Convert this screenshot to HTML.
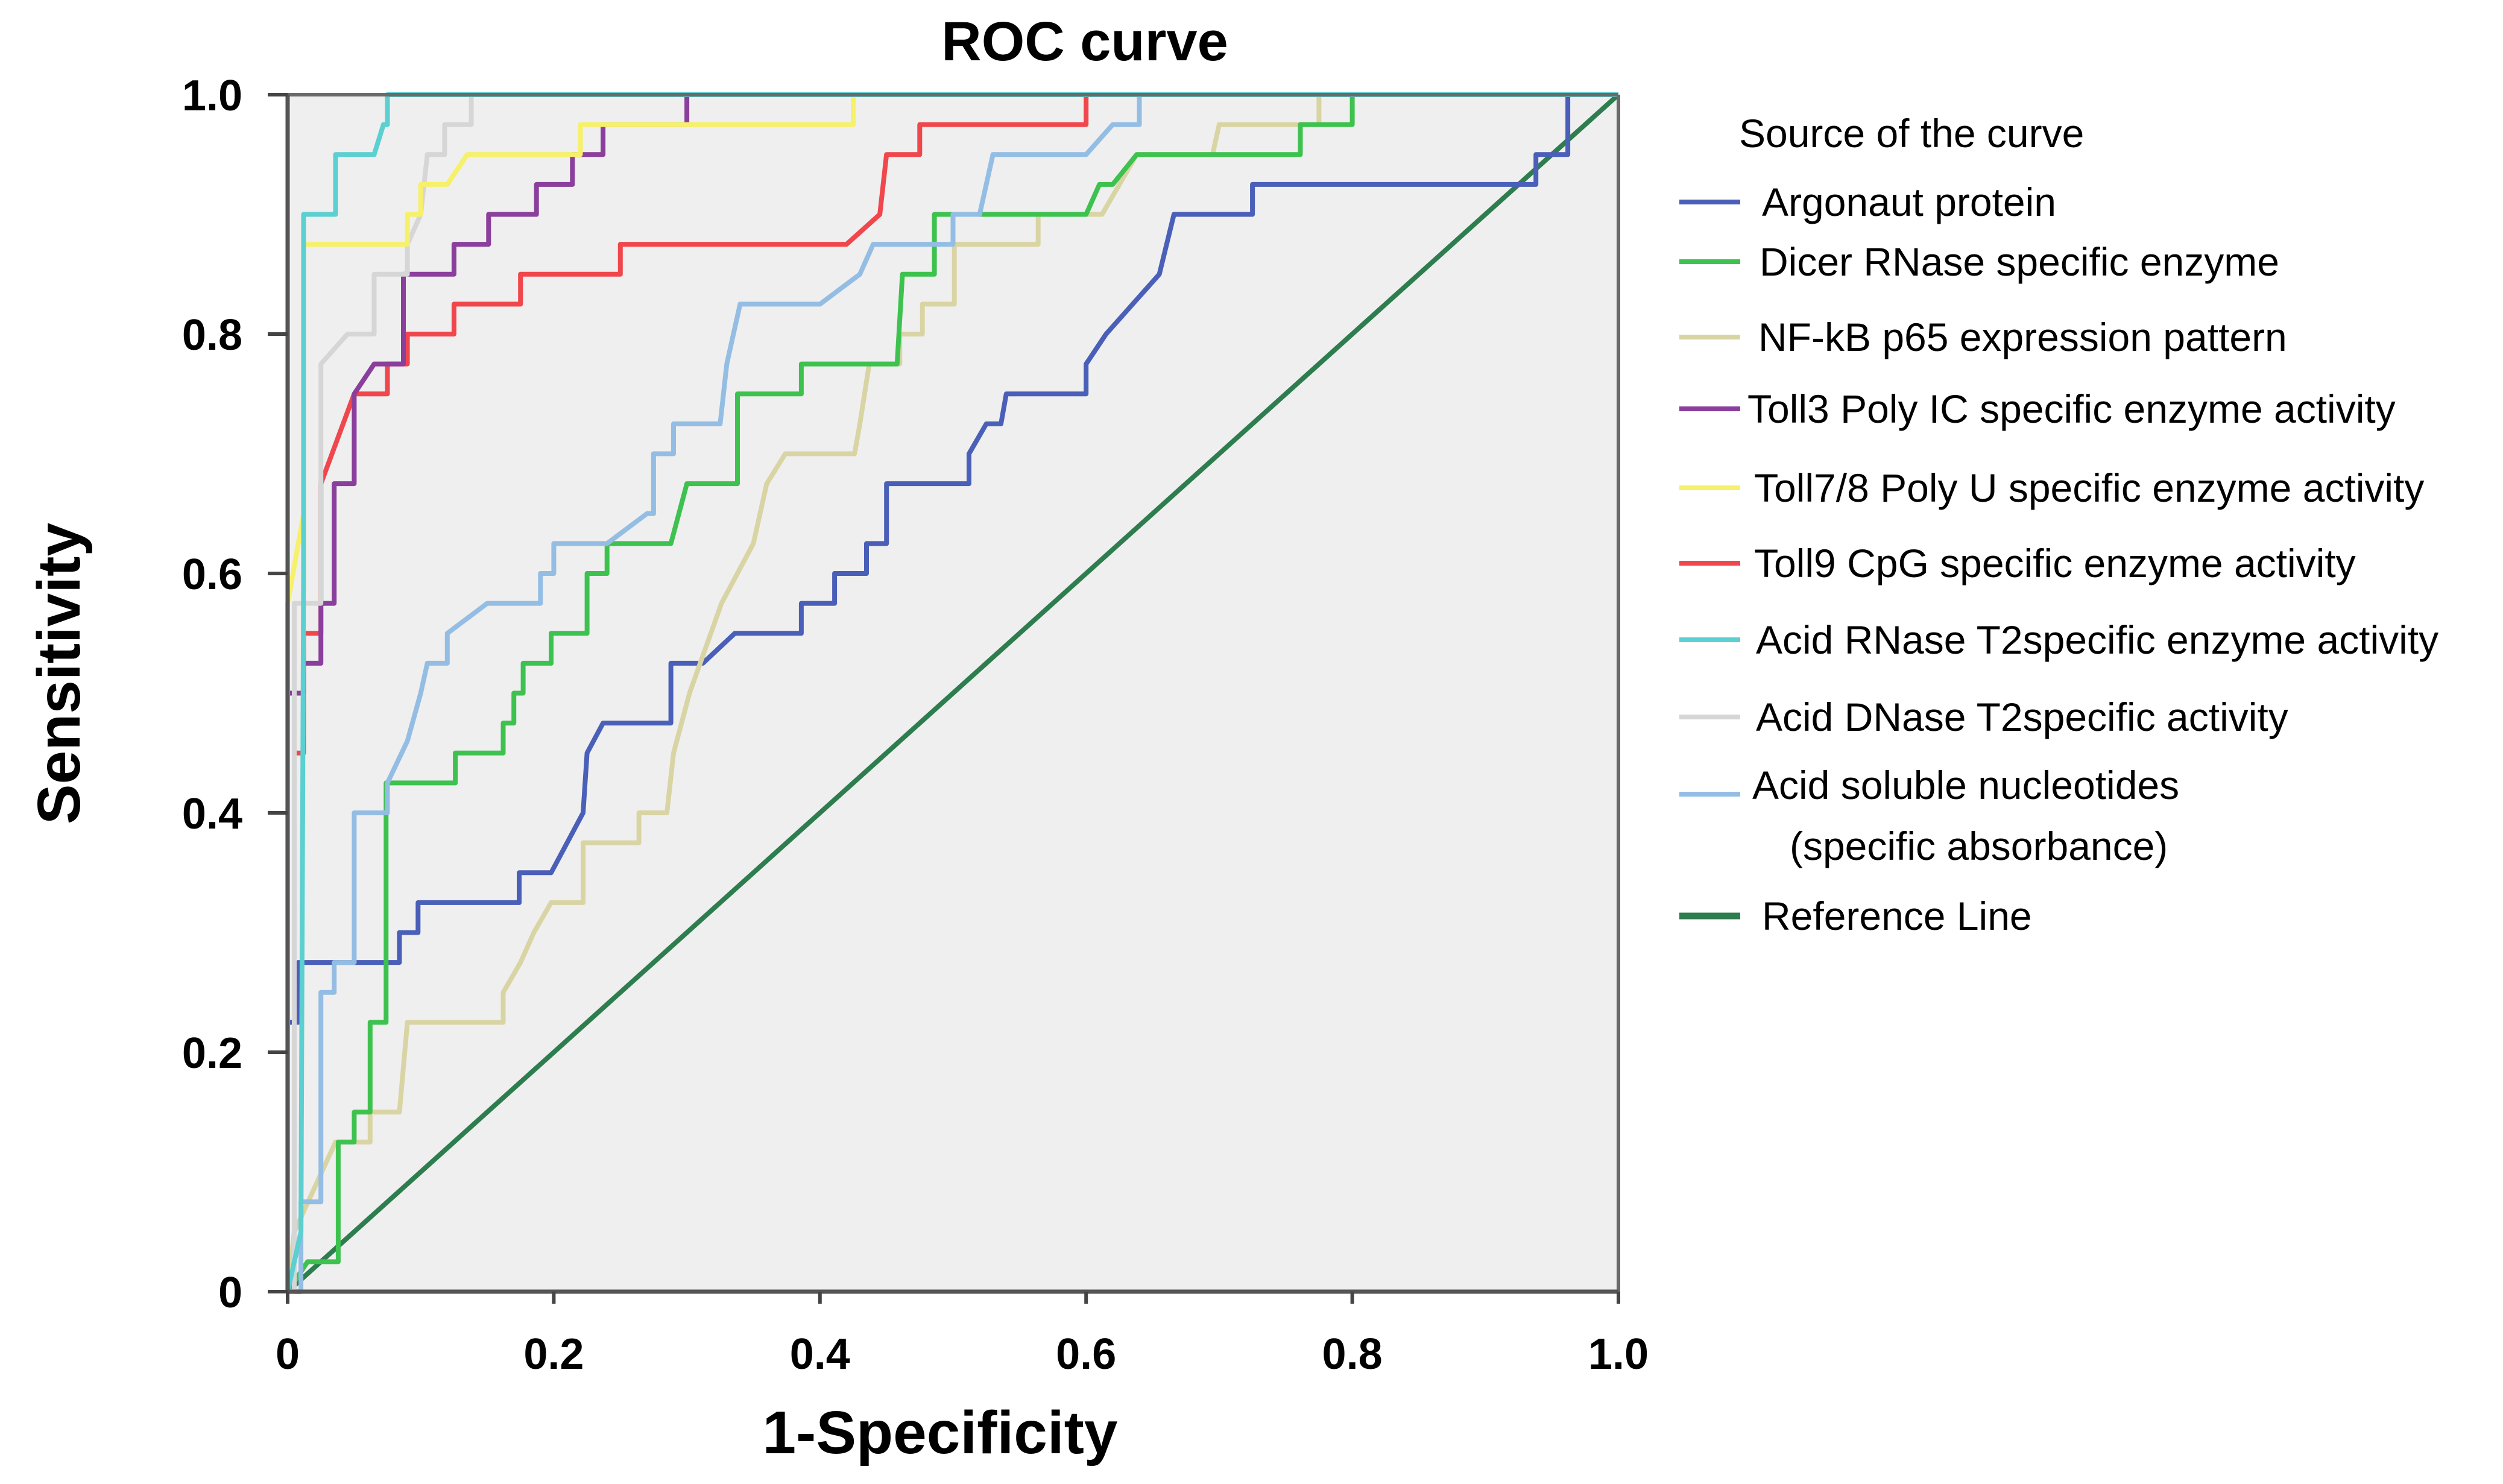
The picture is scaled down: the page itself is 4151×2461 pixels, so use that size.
<!DOCTYPE html>
<html><head><meta charset="utf-8"><style>
html,body{margin:0;padding:0;background:#fff;}
svg{display:block;}
text{font-family:"Liberation Sans",sans-serif;}
</style></head><body>
<svg id="chart" width="4151" height="2461" viewBox="0 0 4151 2461" xmlns="http://www.w3.org/2000/svg">
<rect x="0" y="0" width="4151" height="2461" fill="#fff"/>
<text x="1799" y="100" font-size="92" font-weight="bold" text-anchor="middle" fill="#000">ROC curve</text>
<rect x="477" y="157" width="2207" height="1985" fill="#efefef"/>
<g id="series"></g>
<g id="axes"></g>
<text x="1559" y="2410" font-size="100" font-weight="bold" text-anchor="middle" fill="#000">1-Specificity</text>
<text transform="translate(132,1117) rotate(-90)" font-size="100" font-weight="bold" text-anchor="middle" fill="#000">Sensitivity</text>
<g id="legend">
<text x="2884" y="244" font-size="66" fill="#000">Source of the curve</text>
</g>
</svg>
<script>
const seriesNames = ["Argonaut protein","Dicer RNase specific enzyme","NF-kB p65 expression pattern","Toll3 Poly IC specific enzyme activity","Toll7/8 Poly U specific enzyme activity","Toll9 CpG specific enzyme activity","Acid RNase T2specific enzyme activity","Acid DNase T2specific activity","Acid soluble nucleotides","Reference Line"];
const seriesColors = ["#4a5fb8","#3ec24f","#d9d4a3","#8b3f9c","#f6f06a","#f0474c","#5ccfd0","#d6d6d6","#94bde4","#2e7d4f"];
const xTicks = [0,0.2,0.4,0.6,0.8,1.0];
const xTickLabels = ["0","0.2","0.4","0.6","0.8","1.0"];
const yTicks = [0,0.2,0.4,0.6,0.8,1.0];
const yTickLabels = ["0","0.2","0.4","0.6","0.8","1.0"];

const argonautX = [0,0,0.008,0.008,0.084,0.084,0.098,0.098,0.174,0.174,0.198,0.222,0.225,0.225,0.237,0.237,0.288,0.288,0.312,0.336,0.386,0.386,0.411,0.411,0.435,0.435,0.45,0.45,0.512,0.512,0.525,0.536,0.54,0.6,0.6,0.615,0.635,0.655,0.666,0.666,0.725,0.725,0.938,0.938,0.962,0.962,1];
const argonautY = [0,0.225,0.225,0.275,0.275,0.3,0.3,0.325,0.325,0.35,0.35,0.4,0.45,0.45,0.475,0.475,0.475,0.525,0.525,0.55,0.55,0.575,0.575,0.6,0.6,0.625,0.625,0.675,0.675,0.7,0.725,0.725,0.75,0.75,0.775,0.8,0.825,0.85,0.9,0.9,0.9,0.925,0.925,0.95,0.95,1,1];
const dicerX = [0,0.015,0.015,0.038,0.038,0.05,0.05,0.062,0.062,0.074,0.074,0.126,0.126,0.162,0.162,0.17,0.17,0.177,0.177,0.198,0.198,0.225,0.225,0.24,0.24,0.25,0.25,0.288,0.3,0.3,0.338,0.338,0.386,0.386,0.458,0.462,0.462,0.486,0.486,0.6,0.61,0.62,0.638,0.638,0.761,0.761,0.8,0.8,1];
const dicerY = [0,0.025,0.025,0.025,0.125,0.125,0.15,0.15,0.225,0.225,0.425,0.425,0.45,0.45,0.475,0.475,0.5,0.5,0.525,0.525,0.55,0.55,0.6,0.6,0.625,0.625,0.625,0.625,0.675,0.675,0.675,0.75,0.75,0.775,0.775,0.85,0.85,0.85,0.9,0.9,0.925,0.925,0.95,0.95,0.95,0.975,0.975,1,1];
const nfkbX = [0,0.005,0.005,0.036,0.036,0.062,0.062,0.084,0.09,0.162,0.162,0.175,0.185,0.198,0.222,0.222,0.264,0.264,0.285,0.29,0.302,0.31,0.326,0.35,0.36,0.374,0.374,0.426,0.43,0.437,0.437,0.46,0.46,0.477,0.477,0.501,0.501,0.564,0.564,0.612,0.625,0.638,0.695,0.7,0.775,0.775,1];
const nfkbY = [0,0.05,0.05,0.125,0.125,0.125,0.15,0.15,0.225,0.225,0.25,0.275,0.3,0.325,0.325,0.375,0.375,0.4,0.4,0.45,0.5,0.525,0.575,0.625,0.675,0.7,0.7,0.7,0.725,0.775,0.775,0.775,0.8,0.8,0.825,0.825,0.875,0.875,0.9,0.9,0.925,0.95,0.95,0.975,0.975,1,1];
const toll3X = [0,0,0.012,0.012,0.025,0.025,0.035,0.035,0.05,0.05,0.065,0.087,0.087,0.125,0.125,0.151,0.151,0.187,0.187,0.214,0.214,0.237,0.237,0.3,0.3,1];
const toll3Y = [0,0.5,0.5,0.525,0.525,0.575,0.575,0.675,0.675,0.75,0.775,0.775,0.85,0.85,0.875,0.875,0.9,0.9,0.925,0.925,0.95,0.95,0.975,0.975,1,1];
const toll78X = [0,0,0.012,0.012,0.09,0.09,0.1,0.1,0.12,0.135,0.22,0.22,0.425,0.425,1];
const toll78Y = [0,0.575,0.65,0.875,0.875,0.9,0.9,0.925,0.925,0.95,0.95,0.975,0.975,1,1];
const toll9X = [0,0.005,0.005,0.012,0.012,0.025,0.025,0.05,0.05,0.075,0.075,0.09,0.09,0.125,0.125,0.175,0.175,0.25,0.25,0.42,0.445,0.45,0.45,0.475,0.475,0.6,0.6,1];
const toll9Y = [0,0,0.45,0.45,0.55,0.55,0.675,0.75,0.75,0.75,0.775,0.775,0.8,0.8,0.825,0.825,0.85,0.85,0.875,0.875,0.9,0.95,0.95,0.95,0.975,0.975,1,1];
const rnaseX = [0,0.01,0.012,0.012,0.036,0.036,0.065,0.072,0.075,0.075,1];
const rnaseY = [0,0.05,0.6,0.9,0.9,0.95,0.95,0.975,0.975,1,1];
const dnaseX = [0,0.005,0.005,0.025,0.025,0.045,0.065,0.065,0.09,0.09,0.1,0.105,0.105,0.118,0.118,0.138,0.138,1];
const dnaseY = [0,0,0.575,0.575,0.775,0.8,0.8,0.85,0.85,0.875,0.9,0.95,0.95,0.95,0.975,0.975,1,1];
const solubleX = [0,0.01,0.01,0.025,0.025,0.035,0.035,0.05,0.05,0.075,0.075,0.09,0.1,0.105,0.105,0.12,0.12,0.15,0.19,0.19,0.2,0.2,0.24,0.27,0.275,0.275,0.29,0.29,0.325,0.33,0.335,0.34,0.4,0.43,0.44,0.5,0.5,0.52,0.53,0.6,0.62,0.64,0.64,1];
const solubleY = [0,0,0.075,0.075,0.25,0.25,0.275,0.275,0.4,0.4,0.425,0.46,0.5,0.525,0.525,0.525,0.55,0.575,0.575,0.6,0.6,0.625,0.625,0.65,0.65,0.7,0.7,0.725,0.725,0.775,0.8,0.825,0.825,0.85,0.875,0.875,0.9,0.9,0.95,0.95,0.975,0.975,1,1];
const refX = [0,1];
const refY = [0,1];

const allX = [argonautX,dicerX,nfkbX,toll3X,toll78X,toll9X,rnaseX,dnaseX,solubleX,refX];
const allY = [argonautY,dicerY,nfkbY,toll3Y,toll78Y,toll9Y,rnaseY,dnaseY,solubleY,refY];

const NS = "http://www.w3.org/2000/svg";
const X0 = 477, X1 = 2684, Y0 = 2142, Y1 = 157;
function sx(v){ return X0 + v*(X1-X0); }
function sy(v){ return Y0 - v*(Y0-Y1); }

const sg = document.getElementById('series');
const drawOrder = [9,0,2,1,8,5,3,7,4,6];
const keys = ["argonaut","dicer","nfkb","toll3","toll78","toll9","acid-rnase","acid-dnase","acid-soluble","reference-line"];
drawOrder.forEach(function(i){
  const xs = allX[i], ys = allY[i];
  const pts = xs.map(function(x,k){ return sx(x).toFixed(1)+","+sy(ys[k]).toFixed(1); }).join(" ");
  const pl = document.createElementNS(NS,'polyline');
  pl.setAttribute('points', pts);
  pl.setAttribute('fill','none');
  pl.setAttribute('stroke', seriesColors[i]);
  pl.setAttribute('stroke-width', 8);
  pl.setAttribute('stroke-linejoin','round');
  
  
  sg.appendChild(pl);
});

const ag = document.getElementById('axes');
function line(x1,y1,x2,y2,w,c,name){
  const l = document.createElementNS(NS,'line');
  l.setAttribute('x1',x1); l.setAttribute('y1',y1); l.setAttribute('x2',x2); l.setAttribute('y2',y2);
  l.setAttribute('stroke',c); l.setAttribute('stroke-width',w);
  
  
  ag.appendChild(l);
}
line(X0,Y1,X1,Y1,6,'#6a6a6a','plot-top-border');
line(X1,Y1,X1,Y0,6,'#6a6a6a','plot-right-border');
line(X0,Y0,X1,Y0,7,'#555','x-axis-line');
line(X0,Y1,X0,Y0,7,'#555','y-axis-line');
xTicks.forEach(function(v,k){
  line(sx(v),Y0,sx(v),Y0+20,6,'#444','x-tick');
  const t = document.createElementNS(NS,'text');
  t.setAttribute('x', sx(v)); t.setAttribute('y', 2270);
  t.setAttribute('font-size','72'); t.setAttribute('font-weight','bold'); t.setAttribute('text-anchor','middle');
  t.textContent = xTickLabels[k];
  
  
  ag.appendChild(t);
});
yTicks.forEach(function(v,k){
  line(X0-33,sy(v),X0,sy(v),6,'#444','y-tick');
  const t = document.createElementNS(NS,'text');
  t.setAttribute('x', 402); t.setAttribute('y', sy(v)+26);
  t.setAttribute('font-size','72'); t.setAttribute('font-weight','bold'); t.setAttribute('text-anchor','end');
  t.textContent = yTickLabels[k];
  
  
  ag.appendChild(t);
});

const lg = document.getElementById('legend');
const legY = [335,434,559,678,809,934,1061,1189,1317,1519];
const legTX = [2922,2918,2916,2898,2909,2909,2912,2912,2906,2922];
for (let i=0;i<10;i++){
  const l = document.createElementNS(NS,'line');
  l.setAttribute('x1', 2785); l.setAttribute('x2', 2886);
  l.setAttribute('y1', legY[i]); l.setAttribute('y2', legY[i]);
  l.setAttribute('stroke', seriesColors[i]); l.setAttribute('stroke-width', i===9 ? 11 : 8);
  
  
  lg.appendChild(l);
  const t = document.createElementNS(NS,'text');
  t.setAttribute('x', legTX[i]); t.setAttribute('y', legY[i] + (i===8 ? 8 : 23));
  t.setAttribute('font-size','66');
  t.textContent = seriesNames[i];
  
  
  lg.appendChild(t);
}
const t2 = document.createElementNS(NS,'text');
t2.setAttribute('x', 2968); t2.setAttribute('y', 1426);
t2.setAttribute('font-size','66');
t2.textContent = '(specific absorbance)';


lg.appendChild(t2);
</script>
</body></html>
